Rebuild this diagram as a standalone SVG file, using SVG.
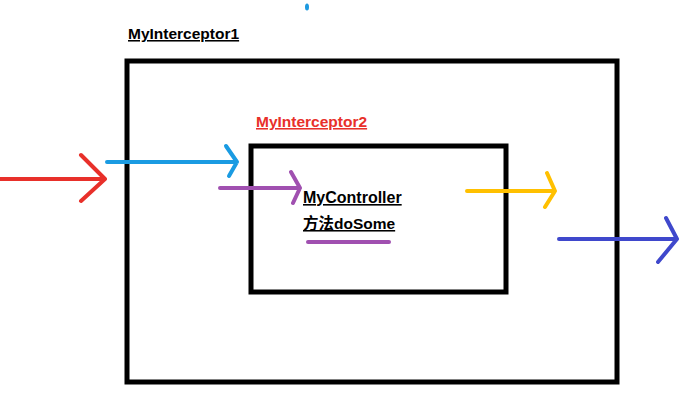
<svg xmlns="http://www.w3.org/2000/svg" width="684" height="412" viewBox="0 0 684 412">
<style>
.box{fill:none;stroke:#000;stroke-width:5}
.lbl{font-family:"Liberation Sans","Noto Sans CJK SC",sans-serif;font-weight:bold;text-decoration:underline}
.arr{fill:none;stroke-width:4;stroke-linecap:round;stroke-linejoin:round}
</style>
<rect width="684" height="412" fill="#fff"/>
<ellipse cx="307" cy="7" rx="2" ry="3.5" fill="#1e9ae0"/>
<g id="interceptor1">
<rect class="box" x="127" y="61" width="490" height="321"/>
<text class="lbl" x="128" y="39" font-size="15.5" fill="#000">MyInterceptor1</text>
</g>
<g id="interceptor2">
<rect class="box" x="251" y="146" width="255" height="146" stroke-width="4"/>
<text class="lbl" x="256" y="127" font-size="15.5" fill="#e8302a">MyInterceptor2</text>
</g>
<g id="controller">
<text class="lbl" x="303" y="203" font-size="16" fill="#000">MyController</text>
<text class="lbl" x="303" y="229" font-size="15.5" fill="#000">方法doSome</text>
</g>
<g id="connectors">
<path class="arr" stroke="#e8302a" d="M0 179 H105 M81 155 L105 179 L81 201"/>
<path class="arr" stroke="#1a9be2" d="M107 162 H237 M226 146 L237 162 L229 176"/>
<path class="arr" stroke="#a050b0" d="M220 188 H300 M291 172 L300 188 L293 203"/>
<path class="arr" stroke="#a050b0" d="M308 242 H389"/>
<path class="arr" stroke="#ffc000" d="M467 191 H555 M547 173 L555 191 L545 207"/>
<path class="arr" stroke="#3f48cc" d="M559 239 H677 M666 218 L677 239 L658 262"/>
</g>
</svg>
